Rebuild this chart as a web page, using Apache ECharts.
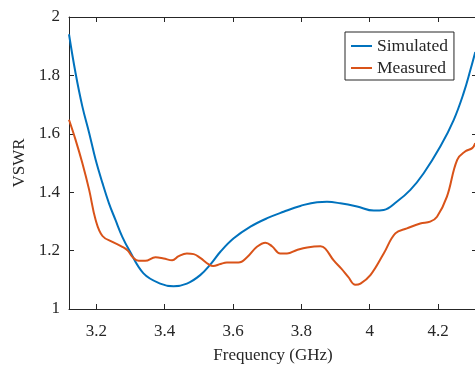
<!DOCTYPE html>
<html>
<head>
<meta charset="utf-8">
<script src="https://cdn.jsdelivr.net/npm/echarts@6/dist/echarts.min.js"></script>
<style>
html,body{margin:0;padding:0;background:#fff;}
#chart{width:475px;height:367px;}
</style>
</head>
<body>
<div id="chart"></div>
<script>
// 仿真曲线 (Simulated)
var simFreq = [3.12, 3.139, 3.159, 3.179, 3.198, 3.218, 3.237, 3.256, 3.276, 3.296, 3.338, 3.387, 3.426,
	3.465, 3.504, 3.534, 3.563, 3.602, 3.651, 3.70, 3.748, 3.797, 3.846, 3.875, 3.914, 3.963, 4.012, 4.041,
	4.08, 4.119, 4.158, 4.207, 4.246, 4.275, 4.295, 4.309];
var simVswr = [1.941, 1.809, 1.694, 1.603, 1.511, 1.431, 1.362, 1.305, 1.247, 1.202, 1.122, 1.087, 1.078,
	1.087, 1.116, 1.153, 1.196, 1.242, 1.282, 1.311, 1.333, 1.353, 1.366, 1.367, 1.362, 1.351, 1.337, 1.339,
	1.368, 1.408, 1.465, 1.557, 1.648, 1.74, 1.82, 1.88];
// 实测曲线 (Measured)
var measFreq = [3.12, 3.139, 3.159, 3.179, 3.198, 3.218, 3.247, 3.276, 3.292, 3.306, 3.324, 3.343, 3.373,
	3.397, 3.422, 3.441, 3.465, 3.485, 3.504, 3.529, 3.542, 3.563, 3.582, 3.616, 3.641, 3.67, 3.695, 3.714,
	3.738, 3.758, 3.787, 3.817, 3.856, 3.87, 3.894, 3.917, 3.937, 3.958, 3.973, 4.002, 4.041, 4.075, 4.109,
	4.148, 4.177, 4.197, 4.226, 4.256, 4.28, 4.30, 4.309];
var measVswr = [1.648, 1.58, 1.50, 1.408, 1.305, 1.25, 1.23, 1.213, 1.20, 1.178, 1.165, 1.165, 1.177,
	1.173, 1.167, 1.181, 1.19, 1.188, 1.175, 1.153, 1.147, 1.154, 1.159, 1.159, 1.177, 1.213, 1.227, 1.215,
	1.19, 1.19, 1.202, 1.211, 1.215, 1.207, 1.167, 1.138, 1.11, 1.083, 1.087, 1.116, 1.19, 1.259, 1.276,
	1.293, 1.299, 1.316, 1.385, 1.511, 1.54, 1.551, 1.568];
var xTicks = [3.2, 3.4, 3.6, 3.8, 4, 4.2];
var seriesNames = ['Simulated', 'Measured'];

function toPairs(xs, ys){
	var out = [];
	for(var i = 0; i < xs.length; i++){
		out.push([xs[i], ys[i]]);
	}
	return out;
}

var axisColor = '#262626';
var font = '"Liberation Serif", "Times New Roman", serif';

var chart = echarts.init(document.getElementById('chart'));
var option = {
	animation: false,
	grid: {left: 69, right: -2, top: 17, bottom: 58, outerBoundsMode: 'none', containLabel: false},
	legend: {
		data: seriesNames,
		orient: 'vertical',
		left: 345,
		top: 32,
		padding: [5, 6, 3, 6],
		itemGap: 4,
		itemWidth: 21,
		itemHeight: 2,
		icon: 'rect',
		borderColor: axisColor,
		borderWidth: 1,
		backgroundColor: '#fff',
		textStyle: {fontFamily: font, fontSize: 17.5, color: axisColor, lineHeight: 18, padding: [0, 0, 0, 0]}
	},
	xAxis: [{
		type: 'value',
		min: 3.12,
		max: 4.314,
		name: 'Frequency (GHz)',
		nameLocation: 'middle',
		nameGap: 38,
		nameTextStyle: {fontFamily: font, fontSize: 17, color: axisColor},
		axisLine: {lineStyle: {color: axisColor, width: 1}},
		axisTick: {inside: true, length: 5, customValues: xTicks, lineStyle: {color: axisColor}},
		axisLabel: {customValues: xTicks, margin: 14, fontFamily: font, fontSize: 17, color: axisColor},
		splitLine: {show: false}
	}, {
		type: 'value',
		position: 'top',
		min: 3.12,
		max: 4.314,
		axisLine: {lineStyle: {color: axisColor, width: 1}},
		axisTick: {inside: true, length: 5, customValues: xTicks, lineStyle: {color: axisColor}},
		axisLabel: {show: false},
		splitLine: {show: false}
	}],
	yAxis: [{
		type: 'value',
		min: 1,
		max: 2,
		interval: 0.2,
		name: 'VSWR',
		nameLocation: 'middle',
		nameGap: 41,
		nameTextStyle: {fontFamily: font, fontSize: 17, color: axisColor},
		axisLine: {show: true, lineStyle: {color: axisColor, width: 1}},
		axisTick: {show: true, inside: true, length: 5, lineStyle: {color: axisColor}},
		axisLabel: {margin: 9, fontFamily: font, fontSize: 17, color: axisColor},
		splitLine: {show: false}
	}, {
		type: 'value',
		position: 'right',
		min: 1,
		max: 2,
		interval: 0.2,
		axisLine: {show: true, lineStyle: {color: axisColor, width: 1}},
		axisTick: {show: true, inside: true, length: 5, lineStyle: {color: axisColor}},
		axisLabel: {show: false},
		splitLine: {show: false}
	}],
	series: [{
		name: seriesNames[0],
		type: 'line',
		data: toPairs(simFreq, simVswr),
		smooth: 0.4,
		symbol: 'none',
		lineStyle: {color: '#0072BD', width: 2},
		itemStyle: {color: '#0072BD'}
	}, {
		name: seriesNames[1],
		type: 'line',
		data: toPairs(measFreq, measVswr),
		smooth: 0.4,
		symbol: 'none',
		lineStyle: {color: '#D95319', width: 2},
		itemStyle: {color: '#D95319'}
	}]
};
chart.setOption(option);
</script>
</body>
</html>
